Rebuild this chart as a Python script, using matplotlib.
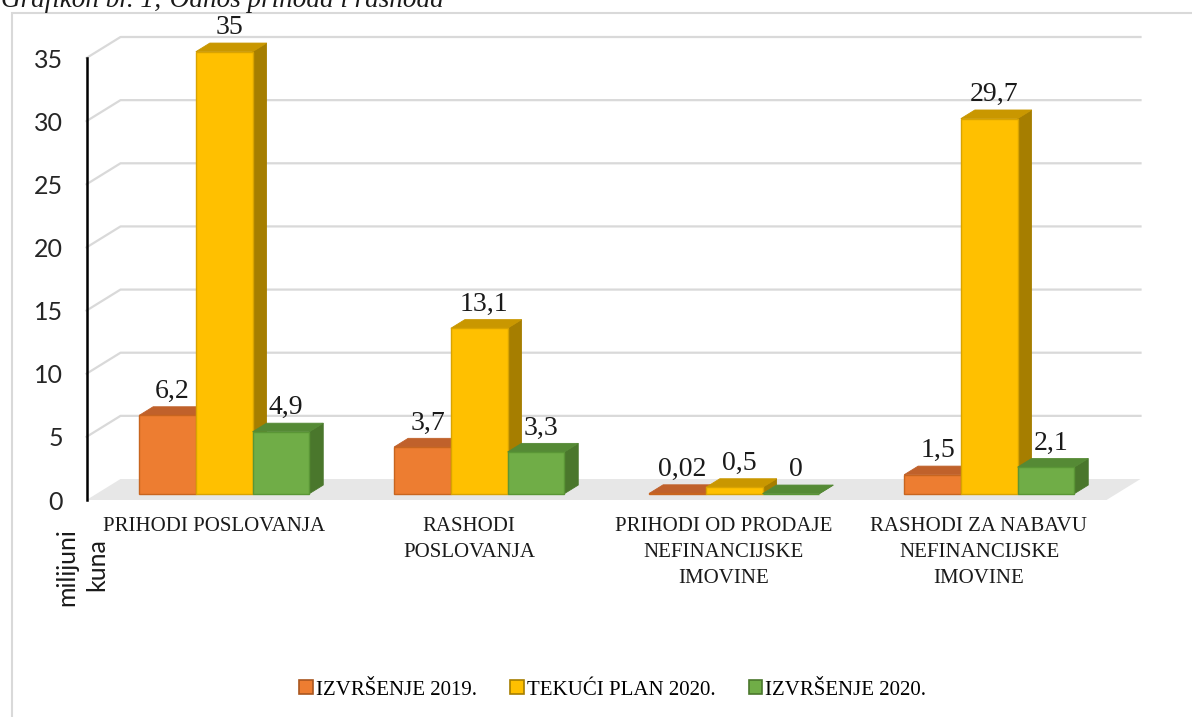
import matplotlib
matplotlib.use("Agg")
import matplotlib.pyplot as plt
from matplotlib.patches import Polygon, Patch, Rectangle
from matplotlib.lines import Line2D

# ---------------- data ----------------
categories = ["PRIHODI POSLOVANJA", "RASHODI\nPOSLOVANJA",
              "PRIHODI OD PRODAJE\nNEFINANCIJSKE\nIMOVINE",
              "RASHODI ZA NABAVU\nNEFINANCIJSKE\nIMOVINE"]
series_names = ["IZVRŠENJE 2019.", "TEKUĆI PLAN 2020.", "IZVRŠENJE 2020."]
izvrsenje_2019 = [6.2, 3.7, 0.02, 1.5]
tekuci_plan_2020 = [35, 13.1, 0.5, 29.7]
izvrsenje_2020 = [4.9, 3.3, 0, 2.1]
value_labels = [["6,2", "3,7", "0,02", "1,5"],
                ["35", "13,1", "0,5", "29,7"],
                ["4,9", "3,3", "0", "2,1"]]
yticks = [0, 5, 10, 15, 20, 25, 30, 35]
title = "Grafikon br. 1; Odnos prihoda i rashoda"
y_title = ["milijuni", "kuna"]

series = [izvrsenje_2019, tekuci_plan_2020, izvrsenje_2020]

# colours: front, top, side, edge
col_front = ["#ED7D31", "#FFC000", "#70AD47"]
col_top = ["#C0612B", "#C99700", "#558A35"]
col_side = ["#A9561F", "#A67E00", "#4A772C"]
col_edge = ["#C8651F", "#D9A300", "#5A9636"]

W, H = 1192, 717
fig = plt.figure(figsize=(W / 100, H / 100), dpi=100)

# frame
fig.patches.append(Rectangle((12 / W, -0.05), 1.2, 1 - 13 / H + 0.05,
                             transform=fig.transFigure, fill=False,
                             edgecolor="#d9d9d9", lw=1.5, zorder=0))

# axes placed so that the front plane matches the reference
left_px, right_px, bot_px, top_px = 86.5, 1106.5, 500, 58
ax = fig.add_axes([left_px / W, 1 - bot_px / H, (right_px - left_px) / W,
                   (bot_px - top_px) / H])
ax.set_xlim(-0.5, 3.5)
ax.set_ylim(0, 35)
ax.patch.set_visible(False)
for s in ["top", "right", "bottom"]:
    ax.spines[s].set_visible(False)
ax.spines["left"].set_color("black")
ax.spines["left"].set_linewidth(1.8)
ax.spines["left"].set_zorder(10)

# depth in data units
px_x = (right_px - left_px) / 4.0
px_y = (bot_px - top_px) / 35.0
DX = 34 / px_x
DY = 21 / px_y


def P(x, y, d):
    return (x + d * DX, y + d * DY)


x0_ax, x1_ax = -0.5, 3.5
# floor
ax.add_patch(Polygon([P(x0_ax, 0, 0), P(x1_ax, 0, 0), P(x1_ax, 0, 1), P(x0_ax, 0, 1)],
                     closed=True, facecolor="#e7e7e7", edgecolor="none",
                     clip_on=False, zorder=1))
# wall gridlines
for v in yticks:
    if v == 0:
        continue
    xs, ys = zip(P(x0_ax, v, 0), P(x0_ax, v, 1), P(x1_ax, v, 1))
    ax.add_line(Line2D(xs, ys, color="#d9d9d9", lw=1.6, clip_on=False, zorder=1))

# bars
bw = 56.7 / px_x
d0, d1 = 0.3, 0.3 + 14 / 34
for i in range(len(categories)):
    for s in range(3):
        v = series[s][i]
        xl = i - 1.5 * bw + s * bw
        xr = xl + bw
        z = 2 + s * 0.1 + i
        # side
        ax.add_patch(Polygon([P(xr, 0, d0), P(xr, v, d0), P(xr, v, d1), P(xr, 0, d1)],
                             closed=True, facecolor=col_side[s], edgecolor=col_side[s],
                             lw=0.6, clip_on=False, zorder=z))
        # top
        ax.add_patch(Polygon([P(xl, v, d0), P(xr, v, d0), P(xr, v, d1), P(xl, v, d1)],
                             closed=True, facecolor=col_top[s], edgecolor=col_top[s],
                             lw=0.6, clip_on=False, zorder=z))
        # front
        ax.add_patch(Polygon([P(xl, 0, d0), P(xr, 0, d0), P(xr, v, d0), P(xl, v, d0)],
                             closed=True, facecolor=col_front[s], edgecolor=col_edge[s],
                             lw=1.0, clip_on=False, zorder=z + 0.01))
        # label
        lx, _ = P((xl + xr) / 2, v, 0.45)
        _, ly = P((xl + xr) / 2, v, d1)
        ax.annotate(value_labels[s][i], (lx, ly), xytext=(0, 2),
                    textcoords="offset points", ha="center", va="bottom",
                    fontsize=20, family="Liberation Serif", color="#1a1a1a",
                    annotation_clip=False, zorder=20)

# ticks
ax.set_yticks(yticks)
ax.set_yticklabels([str(t) for t in yticks], fontsize=18, family="Lato",
                   color="#262626")
ax.tick_params(axis="y", length=0, pad=17)
ax.set_xticks(range(len(categories)))
ax.set_xticklabels(categories, fontsize=15, family="Liberation Serif",
                   color="#1a1a1a", linespacing=1.5)
ax.tick_params(axis="x", length=0, pad=12)

# axis title (two columns)
fig.text(67 / W, 1 - 567 / H, y_title[0], rotation=90, ha="center", va="center",
         fontsize=18, family="Lato", color="#1a1a1a")
fig.text(97 / W, 1 - 565 / H, y_title[1], rotation=90, ha="center", va="center",
         fontsize=18, family="Lato", color="#1a1a1a")

# title (clipped at top)
fig.text(1 / W, 1 - 7 / H, title, ha="left", va="baseline", fontsize=19.5,
         family="Liberation Serif", style="italic", color="#1a1a1a")

# legend
handles = [Patch(facecolor=col_front[s], edgecolor=col_side[s], lw=1.2)
           for s in range(3)]
fig.legend(handles, series_names, loc="center", bbox_to_anchor=(0.514, 1 - 690 / H),
           ncol=3, frameon=False, handlelength=0.65, handleheight=0.65,
           handletextpad=0.15, columnspacing=1.6,
           prop={"family": "Liberation Serif", "size": 15})

fig.savefig("out.png", dpi=100)
